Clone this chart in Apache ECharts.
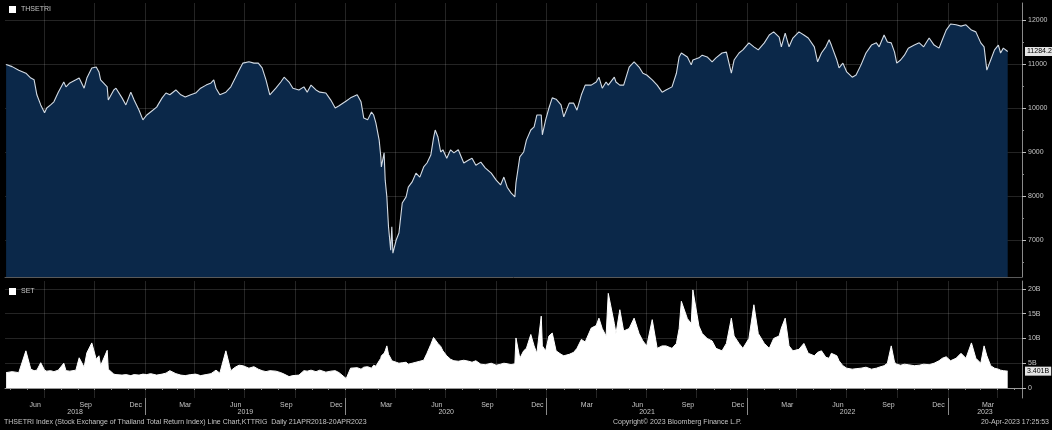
<!DOCTYPE html>
<html>
<head>
<meta charset="utf-8">
<script src="https://cdn.jsdelivr.net/npm/echarts@6/dist/echarts.min.js"></script>
<style>
  html, body { margin: 0; padding: 0; background: #000; }
  #chart { width: 1052px; height: 430px; }
</style>
</head>
<body>
<div id="chart"></div>
<script>
// THSETRI daily close and SET turnover in billions
var dates = [
  '2018-04-23','2018-05-04','2018-05-16','2018-05-29','2018-06-07','2018-06-13','2018-06-18','2018-06-25','2018-07-02','2018-07-06',
  '2018-07-13','2018-07-19','2018-07-27','2018-08-06','2018-08-10','2018-08-17','2018-08-28','2018-09-03','2018-09-12','2018-09-17',
  '2018-09-26','2018-10-04','2018-10-09','2018-10-12','2018-10-24','2018-10-26','2018-11-05','2018-11-09','2018-11-20','2018-11-27',
  '2018-12-06','2018-12-12','2018-12-21','2018-12-28','2019-01-04','2019-01-11','2019-01-22','2019-02-01','2019-02-08','2019-02-15',
  '2019-02-26','2019-03-07','2019-03-15','2019-03-25','2019-04-03','2019-04-12','2019-04-22','2019-05-01','2019-05-06','2019-05-10',
  '2019-05-17','2019-05-28','2019-06-06','2019-06-14','2019-06-21','2019-06-28','2019-07-09','2019-07-18','2019-07-26','2019-08-02',
  '2019-08-09','2019-08-16','2019-08-27','2019-09-05','2019-09-11','2019-09-20','2019-09-27','2019-10-08','2019-10-17','2019-10-23',
  '2019-10-30','2019-11-08','2019-11-15','2019-11-26','2019-12-05','2019-12-13','2019-12-20','2020-01-02','2020-01-10','2020-01-22',
  '2020-01-29','2020-02-03','2020-02-10','2020-02-17','2020-02-21','2020-02-25','2020-03-02','2020-03-05','2020-03-06','2020-03-11',
  '2020-03-13','2020-03-16','2020-03-19','2020-03-23','2020-03-25','2020-03-27','2020-04-02','2020-04-07','2020-04-13','2020-04-20',
  '2020-04-24','2020-05-01','2020-05-08','2020-05-15','2020-05-22','2020-05-28','2020-06-04','2020-06-09','2020-06-12','2020-06-17',
  '2020-06-22','2020-06-26','2020-07-03','2020-07-10','2020-07-16','2020-07-24','2020-08-03','2020-08-12','2020-08-18','2020-08-25',
  '2020-09-03','2020-09-11','2020-09-22','2020-10-01','2020-10-09','2020-10-15','2020-10-21','2020-10-28','2020-11-04','2020-11-06',
  '2020-11-13','2020-11-20','2020-11-25','2020-12-03','2020-12-09','2020-12-14','2020-12-22','2020-12-24','2020-12-30','2021-01-05',
  '2021-01-11','2021-01-18','2021-01-27','2021-02-01','2021-02-11','2021-02-19','2021-02-25','2021-03-05','2021-03-12','2021-03-23',
  '2021-04-01','2021-04-06','2021-04-12','2021-04-19','2021-04-23','2021-05-04','2021-05-07','2021-05-14','2021-05-21','2021-05-31',
  '2021-06-09','2021-06-18','2021-06-25','2021-07-02','2021-07-12','2021-07-21','2021-07-30','2021-08-06','2021-08-17','2021-08-25',
  '2021-08-30','2021-09-03','2021-09-14','2021-09-21','2021-09-24','2021-10-05','2021-10-11','2021-10-20','2021-10-29','2021-11-05',
  '2021-11-16','2021-11-24','2021-12-03','2021-12-08','2021-12-17','2021-12-24','2022-01-04','2022-01-13','2022-01-21','2022-02-01',
  '2022-02-10','2022-02-18','2022-02-28','2022-03-04','2022-03-11','2022-03-18','2022-03-25','2022-04-05','2022-04-14','2022-04-22',
  '2022-05-03','2022-05-09','2022-05-16','2022-05-24','2022-05-30','2022-06-03','2022-06-13','2022-06-17','2022-06-24','2022-07-01',
  '2022-07-11','2022-07-18','2022-07-27','2022-08-05','2022-08-15','2022-08-24','2022-08-29','2022-09-07','2022-09-13','2022-09-20',
  '2022-09-26','2022-09-30','2022-10-07','2022-10-14','2022-10-21','2022-11-01','2022-11-10','2022-11-18','2022-11-28','2022-12-07',
  '2022-12-16','2022-12-22','2022-12-29','2023-01-06','2023-01-16','2023-01-25','2023-02-03','2023-02-13','2023-02-21','2023-03-02',
  '2023-03-08','2023-03-13','2023-03-20','2023-03-27','2023-04-03','2023-04-07','2023-04-12','2023-04-20'
];
var closes = [
  10990,10940,10860,10790,10680,10640,10300,10070,9890,10000,
  10070,10140,10360,10590,10480,10570,10640,10680,10450,10680,
  10910,10930,10820,10640,10480,10180,10410,10450,10230,10070,
  10360,10180,9950,9730,9840,9910,10020,10230,10340,10300,
  10410,10300,10250,10300,10340,10450,10520,10570,10640,10450,
  10300,10360,10480,10680,10860,11020,11050,11020,11020,10910,
  10640,10300,10450,10590,10700,10590,10450,10410,10480,10360,
  10520,10410,10360,10340,10180,10000,10050,10160,10230,10300,
  10140,9770,9730,9910,9840,9660,9270,8890,8660,8980,
  8360,7980,7300,6770,7300,6700,7000,7160,7840,7980,
  8200,8320,8520,8430,8660,8750,8930,9320,9500,9340,
  9000,9050,8860,9050,8980,9050,8750,8820,8860,8700,
  8770,8640,8520,8360,8250,8430,8200,8070,7980,8300,
  8890,9000,9270,9500,9570,9840,9840,9390,9730,10000,
  10230,10200,10070,9800,10110,10110,9950,10300,10520,10520,
  10590,10700,10450,10590,10520,10700,10590,10520,10520,10930,
  11050,10930,10790,10750,10640,10520,10360,10410,10480,10790,
  11160,11250,11160,10980,11090,11140,11200,11160,11050,11140,
  11250,11270,10790,11090,11250,11320,11480,11390,11320,11480,
  11660,11730,11610,11390,11700,11390,11590,11730,11660,11590,
  11390,11050,11250,11390,11550,11430,11090,10910,11020,10820,
  10700,10750,10980,11250,11430,11480,11390,11660,11500,11480,
  11270,11020,11090,11200,11360,11430,11480,11390,11590,11430,
  11360,11550,11770,11910,11890,11860,11890,11770,11730,11480,
  11390,10860,11090,11320,11430,11250,11360,11284.2
];
var volumes = [
  3.1,3.3,3.1,7.5,3.8,3.5,3.6,5.1,3.6,3.4,
  3.5,3.3,3.6,5.0,3.5,3.4,3.6,6.1,4.2,7.1,
  9.1,5.8,6.5,4.5,7.6,3.8,2.8,2.7,2.6,2.7,
  2.5,2.7,2.6,2.8,2.7,2.9,2.6,2.8,3.0,3.5,
  2.9,2.6,2.5,2.7,2.8,2.5,2.7,2.9,3.3,3.6,
  3.0,7.5,3.5,4.2,4.6,4.5,4.0,4.3,3.8,3.5,
  3.3,3.5,3.4,3.1,2.8,2.3,2.5,2.6,3.5,3.4,
  3.6,3.3,3.6,3.2,3.4,3.5,3.1,1.9,4.0,4.1,
  3.8,4.2,4.3,4.0,4.6,4.4,5.5,6.0,6.5,7.0,
  7.5,8.5,6.8,6.0,5.5,5.8,5.2,5.0,5.1,5.2,
  4.8,5.0,5.2,5.4,5.6,7.0,8.8,10.2,10.5,9.0,
  8.4,7.5,6.5,5.8,5.5,5.4,5.6,5.4,5.2,5.5,
  4.8,4.7,5.0,4.6,4.8,5.0,4.9,4.7,4.9,10.1,
  6.0,7.5,8.0,10.8,8.5,7.0,14.5,8.5,7.5,10.5,
  11.1,7.5,6.8,6.5,6.8,7.2,8.0,9.8,9.3,12.1,
  12.6,14.1,12.0,10.5,19.1,13.0,11.0,15.8,11.5,12.0,
  14.1,11.0,9.5,8.5,13.8,8.0,8.5,8.5,8.0,9.0,
  12.0,17.5,14.0,13.0,19.8,12.5,11.0,10.0,9.5,8.0,
  7.5,9.0,14.1,10.5,9.0,8.0,10.0,16.8,11.0,9.0,
  8.0,10.0,10.5,12.1,14.1,8.5,7.5,7.8,9.0,7.0,
  6.5,7.2,7.5,6.2,6.0,7.0,6.5,5.5,4.5,4.0,
  3.8,3.9,4.0,4.2,3.8,4.0,4.2,4.5,5.0,8.5,
  5.2,4.8,4.6,4.8,4.7,4.5,4.6,4.8,4.7,5.0,
  5.5,6.0,6.3,5.5,6.0,7.0,6.0,9.1,6.0,5.0,
  8.5,6.5,4.5,4.0,3.8,3.6,3.5,3.401
];
var priceTicks = [7000, 8000, 9000, 10000, 11000, 12000];
var priceMinorTicks = [6500, 7500, 8500, 9500, 10500, 11500];
var volumeTicks = [0, 5, 10, 15, 20];
var monthNames = ['Jan','Feb','Mar','Apr','May','Jun','Jul','Aug','Sep','Oct','Nov','Dec'];
var footerLeft = 'THSETRI Index (Stock Exchange of Thailand Total Return Index) Line Chart,KTTRIG  Daily 21APR2018-20APR2023';
var footerMid = 'Copyright\u00a9 2023 Bloomberg Finance L.P.';
var footerRight = '20-Apr-2023 17:25:53';

function ts(y, m, d) { return +new Date(y, m - 1, d); }
function parseDate(s) {
    var p = s.split('-');
    return ts(+p[0], +p[1], +p[2]);
}

var xMin = ts(2018, 4, 21);
var xMax = ts(2023, 5, 16);

// quarter grid lines, monthly ticks, mid-month labels, year marks
var quarterStarts = [], monthStarts = [], monthLabels = [], yearStarts = [], yearCenters = [];
for (var y = 2018; y <= 2023; y++) {
    for (var m = 1; m <= 12; m++) {
        var t = ts(y, m, 1);
        if (t > xMin && t < xMax) {
            monthStarts.push(t);
            if ((m - 1) % 3 === 0) quarterStarts.push(t);
        }
        var mid = ts(y, m, 15);
        if ((m % 3 === 0) && mid > xMin && mid < xMax) monthLabels.push(mid);
    }
    if (ts(y, 1, 1) > xMin) yearStarts.push(ts(y, 1, 1));
    var a = Math.max(ts(y, 1, 1), xMin), b = Math.min(ts(y + 1, 1, 1), xMax);
    yearCenters.push((a + b) / 2);
}

var priceData = dates.map(function (d, i) { return [parseDate(d), closes[i]]; });
var volumeData = dates.map(function (d, i) { return [parseDate(d), volumes[i]]; });
var lastClose = closes[closes.length - 1];
var lastVolume = volumes[volumes.length - 1];

var txt = '#c4c4c4';
var gridColor = 'rgba(255,255,255,0.14)';
var font = 'Liberation Sans';

var chart = echarts.init(document.getElementById('chart'));
var option = {
    backgroundColor: '#000',
    animation: false,
    textStyle: {fontFamily: font},
    title: [
        {text: footerLeft, left: 4, top: 419, padding: 0, textStyle: {fontSize: 7, color: txt, fontWeight: 'normal', fontFamily: font}},
        {text: footerMid, left: 613, top: 419, padding: 0, textStyle: {fontSize: 7, color: txt, fontWeight: 'normal', fontFamily: font}},
        {text: footerRight, right: 3, top: 419, padding: 0, textStyle: {fontSize: 7, color: txt, fontWeight: 'normal', fontFamily: font}}
    ],
    legend: [{
        data: [{name: 'THSETRI', itemStyle: {color: '#fff'}}],
        left: 9, top: 6, padding: 0,
        icon: 'rect', itemWidth: 7, itemHeight: 7, itemGap: 4,
        textStyle: {color: txt, fontSize: 7}
    }, {
        data: [{name: 'SET', itemStyle: {color: '#fff'}}],
        left: 9, top: 288, padding: 0,
        icon: 'rect', itemWidth: 7, itemHeight: 7, itemGap: 4,
        textStyle: {color: txt, fontSize: 7}
    }],
    grid: [
        {left: 5, right: 30, top: 3, height: 274},
        {left: 5, right: 30, top: 281, height: 117}
    ],
    xAxis: [{
        // top panel: quarter grid lines
        type: 'value', gridIndex: 0, min: xMin, max: xMax, z: 3,
        axisLine: {show: true, lineStyle: {color: '#5a5a5a'}},
        axisTick: {show: false, customValues: quarterStarts},
        axisLabel: {show: false},
        splitLine: {show: true, lineStyle: {color: gridColor}}
    }, {
        // bottom panel: month ticks and labels
        type: 'value', gridIndex: 1, position: 'bottom', min: xMin, max: xMax,
        axisLine: {show: true, lineStyle: {color: '#8a8a8a'}},
        axisTick: {show: true, length: 2, customValues: monthStarts, lineStyle: {color: '#8a8a8a'}},
        axisLabel: {
            customValues: monthLabels, margin: 4, fontSize: 7, color: txt,
            formatter: function (v) { return monthNames[new Date(v).getMonth()]; }
        },
        splitLine: {show: false}
    }, {
        // bottom panel: quarter grid lines
        type: 'value', gridIndex: 1, position: 'bottom', min: xMin, max: xMax, z: 3,
        axisLine: {show: false},
        axisTick: {show: false, customValues: quarterStarts},
        axisLabel: {show: false},
        splitLine: {show: true, lineStyle: {color: gridColor}}
    }, {
        // bottom panel: year separators and year labels
        type: 'value', gridIndex: 1, position: 'bottom', min: xMin, max: xMax,
        axisLine: {show: false},
        axisTick: {show: true, length: 17, customValues: yearStarts, lineStyle: {color: '#8a8a8a'}},
        axisLabel: {
            customValues: yearCenters, margin: 11, fontSize: 7, color: txt,
            formatter: function (v) { return String(new Date(v).getFullYear()); }
        },
        splitLine: {show: false}
    }],
    yAxis: [{
        type: 'value', gridIndex: 0, position: 'right', min: 6159, max: 12386, z: 3,
        axisLine: {show: true, lineStyle: {color: '#8a8a8a'}},
        axisTick: {show: true, length: 4, inside: false, customValues: priceTicks, lineStyle: {color: '#bdbdbd'}},
        axisLabel: {
            customValues: priceTicks, margin: 6, fontSize: 7, color: txt,
            formatter: function (v) { return String(v); }
        },
        splitLine: {show: true, lineStyle: {color: gridColor}}
    }, {
        type: 'value', gridIndex: 0, position: 'right', min: 6159, max: 12386,
        axisLine: {show: false},
        axisTick: {show: true, length: 2, customValues: priceMinorTicks, lineStyle: {color: '#8a8a8a'}},
        axisLabel: {show: false},
        splitLine: {show: false}
    }, {
        type: 'value', gridIndex: 1, position: 'right', min: -2.02, max: 21.6, z: 3,
        axisLine: {show: true, lineStyle: {color: '#8a8a8a'}},
        axisTick: {show: true, length: 4, customValues: volumeTicks, lineStyle: {color: '#bdbdbd'}},
        axisLabel: {
            customValues: volumeTicks, margin: 6, fontSize: 7, color: txt,
            formatter: function (v) { return v === 0 ? '0' : v + 'B'; }
        },
        splitLine: {show: true, lineStyle: {color: gridColor}}
    }],
    series: [{
        name: 'THSETRI',
        type: 'line',
        xAxisIndex: 0, yAxisIndex: 0,
        data: priceData,
        symbol: 'none',
        lineStyle: {color: '#d3dbe4', width: 1.1},
        areaStyle: {color: '#0b2849', opacity: 1, origin: 'start'},
        markLine: {
            silent: true, symbol: 'none',
            lineStyle: {color: 'rgba(0,0,0,0)', width: 0},
            label: {
                show: true, position: 'end', distance: 3, fontSize: 7, color: '#000',
                backgroundColor: '#e4e4e4', padding: [1, 2, 1, 2],
                formatter: function () { return lastClose.toFixed(1); }
            },
            data: [{yAxis: lastClose}]
        }
    }, {
        name: 'SET',
        type: 'line',
        xAxisIndex: 1, yAxisIndex: 2,
        data: volumeData,
        symbol: 'none',
        lineStyle: {color: '#ffffff', width: 1},
        areaStyle: {color: '#ffffff', opacity: 1},
        markLine: {
            silent: true, symbol: 'none',
            lineStyle: {color: 'rgba(0,0,0,0)', width: 0},
            label: {
                show: true, position: 'end', distance: 3, fontSize: 7, color: '#000',
                backgroundColor: '#e4e4e4', padding: [1, 2, 1, 2],
                formatter: function () { return lastVolume.toFixed(3) + 'B'; }
            },
            data: [{yAxis: lastVolume}]
        }
    }]
};
chart.setOption(option);
</script>
</body>
</html>
